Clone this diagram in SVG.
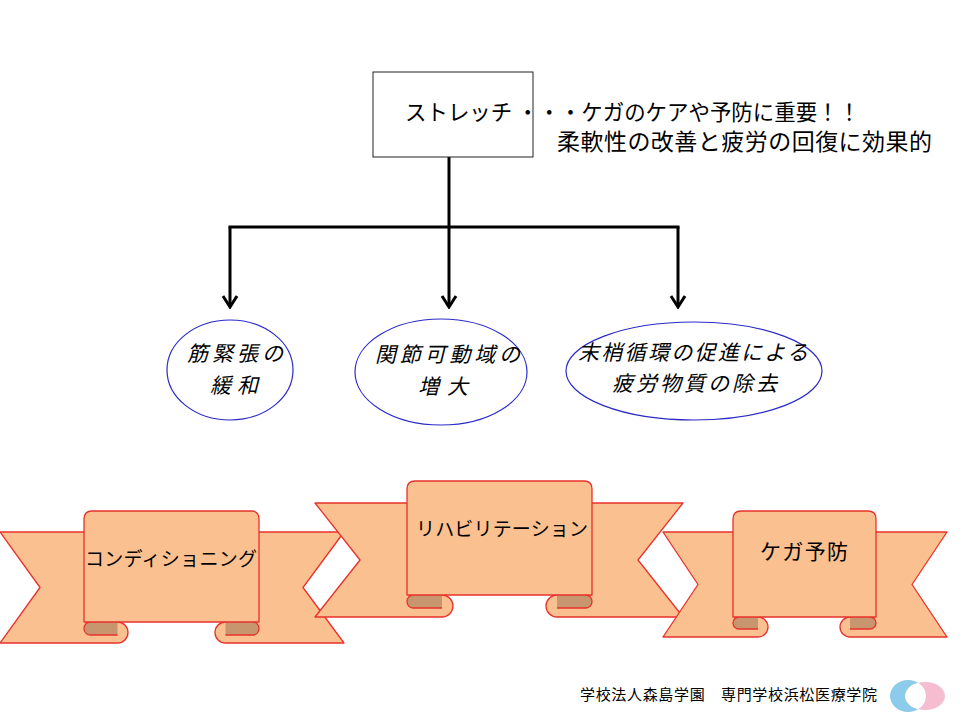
<svg xmlns="http://www.w3.org/2000/svg" width="960" height="720" viewBox="0 0 960 720">
<defs>
<style>
.jp{font-family:'Noto Sans CJK JP','Noto Sans CJK SC',sans-serif;fill:#000}
.el{fill:#fff;stroke:#2a2ac8;stroke-width:1.2}
.oval{font-size:21px;font-style:italic}
.rb{fill:#fac090;stroke:#e8322a;stroke-width:1.3;stroke-linejoin:round}
.dk{fill:#c8966e;stroke:none}
.dks{fill:none;stroke:#e8322a;stroke-width:1.3}
.rt{font-size:19px}
.con{fill:none;stroke:#000;stroke-width:3}
</style>
<marker id="arr" viewBox="-13 -9 15 18" refX="0" refY="0" markerWidth="15" markerHeight="18" markerUnits="userSpaceOnUse" orient="auto">
<path d="M-11,-7 L0,0 L-11,7" fill="none" stroke="#000" stroke-width="3"/>
</marker>
<clipPath id="blueclip"><ellipse cx="908" cy="696" rx="18" ry="16"/></clipPath>
</defs>
<rect width="960" height="720" fill="#fff"/>

<g id="connectors">
<path class="con" d="M449,157 V307" marker-end="url(#arr)"/>
<path class="con" d="M230,227 H678" stroke-linecap="square"/>
<path class="con" d="M230,227 V307" marker-end="url(#arr)"/>
<path class="con" d="M678,227 V307" marker-end="url(#arr)"/>
</g>

<g id="node-stretch">
<rect x="373" y="72" width="160" height="85" fill="#fff" stroke="#222" stroke-width="1"/>
<text class="jp" x="405" y="120" font-size="22" textLength="455" lengthAdjust="spacingAndGlyphs">ストレッチ ・・・ケガのケアや予防に重要！！</text>
<text class="jp" x="557" y="150" font-size="23" textLength="375" lengthAdjust="spacing">柔軟性の改善と疲労の回復に効果的</text>
</g>

<g id="node-muscle">
<ellipse class="el" cx="230" cy="370" rx="63" ry="50"/>
<text class="jp oval" x="187" y="361" textLength="96" lengthAdjust="spacing">筋緊張の</text>
<text class="jp oval" x="210" y="393" textLength="48" lengthAdjust="spacing">緩和</text>
</g>

<g id="node-joint">
<ellipse class="el" cx="441" cy="372" rx="86" ry="53"/>
<text class="jp oval" x="375" y="362" textLength="145" lengthAdjust="spacing">関節可動域の</text>
<text class="jp oval" x="418" y="394" textLength="50" lengthAdjust="spacing">増大</text>
</g>

<g id="node-circulation">
<ellipse class="el" cx="694" cy="371" rx="128" ry="49"/>
<text class="jp oval" x="578" y="360" textLength="230" lengthAdjust="spacing">末梢循環の促進による</text>
<text class="jp oval" x="612" y="391" textLength="165" lengthAdjust="spacing">疲労物質の除去</text>
</g>

<g id="ribbon-conditioning">
<path class="rb" d="M0,532 H117.5 V622 A10.5 10.5 0 0 1 117.5,643 H0 L40,587.5 Z"/>
<path class="rb" d="M344,532 H225.5 V622 A10.5 10.5 0 0 0 225.5,643 H344 L303,587.5 Z"/>
<path class="dk" d="M90,622 H117.5 V635 H90 A6 6.5 0 0 1 90,622 Z"/>
<path class="dks" d="M117.5,635 H90 A6 6.5 0 0 1 90,622"/>
<path class="dk" d="M253,622 H225.5 V635 H253 A6 6.5 0 0 0 253,622 Z"/>
<path class="dks" d="M225.5,635 H253 A6 6.5 0 0 0 253,622"/>
<path class="rb" d="M84,622 V519 Q84,511 92,511 H251 Q259,511 259,519 V622 Z"/>
<text class="jp rt" x="85" y="566" textLength="172" lengthAdjust="spacing">コンディショニング</text>
</g>

<g id="ribbon-rehab">
<path class="rb" d="M315,503 H442 V595 A11 11 0 0 1 442,617 H315 L360,560 Z"/>
<path class="rb" d="M683,503 H557 V595 A11 11 0 0 0 557,617 H683 L638,560 Z"/>
<path class="dk" d="M413,595 H442 V608 H413 A6 6.5 0 0 1 413,595 Z"/>
<path class="dks" d="M442,608 H413 A6 6.5 0 0 1 413,595"/>
<path class="dk" d="M586,595 H557 V608 H586 A6 6.5 0 0 0 586,595 Z"/>
<path class="dks" d="M557,608 H586 A6 6.5 0 0 0 586,595"/>
<path class="rb" d="M407,595 V489 Q407,481 415,481 H584 Q592,481 592,489 V595 Z"/>
<text class="jp rt" x="416" y="536" textLength="172" lengthAdjust="spacing">リハビリテーション</text>
</g>

<g id="ribbon-prevention">
<path class="rb" d="M663,532 H758 V617 A10 10 0 0 1 758,637 H663 L698,584.5 Z"/>
<path class="rb" d="M947,532 H850 V617 A10 10 0 0 0 850,637 H947 L912,584.5 Z"/>
<path class="dk" d="M739,617 H758 V629 H739 A6 6 0 0 1 739,617 Z"/>
<path class="dks" d="M758,629 H739 A6 6 0 0 1 739,617"/>
<path class="dk" d="M870,617 H850 V629 H870 A6 6 0 0 0 870,617 Z"/>
<path class="dks" d="M850,629 H870 A6 6 0 0 0 870,617"/>
<path class="rb" d="M733,617 V519 Q733,511 741,511 H868 Q876,511 876,519 V617 Z"/>
<text class="jp" x="760" y="559" font-size="21" textLength="88" lengthAdjust="spacing">ケガ予防</text>
</g>

<g id="footer">
<text class="jp" x="580" y="700" font-size="15" fill="#222" textLength="297" lengthAdjust="spacing">学校法人森島学園　専門学校浜松医療学院</text>
<ellipse cx="908" cy="696" rx="18" ry="16" fill="#8ccbe9"/>
<ellipse cx="925" cy="696" rx="20" ry="14" fill="#f6bcd0"/>
<ellipse cx="925" cy="696" rx="20" ry="14" fill="#fff" clip-path="url(#blueclip)"/>
</g>
</svg>
